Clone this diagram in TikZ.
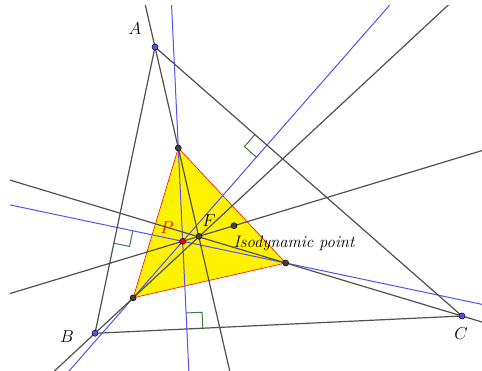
\documentclass[tikz,border=0pt]{standalone}
\usetikzlibrary{calc}
\definecolor{lgray}{RGB}{80,80,80}
\definecolor{lblue}{RGB}{80,80,255}
\definecolor{lgreen}{RGB}{60,125,60}
\definecolor{dotgray}{RGB}{64,64,64}
\tikzset{
  gline/.style={draw=lgray,line width=1.2pt},
  bline/.style={draw=lblue,line width=1pt},
  rmark/.style={draw=lgreen,line width=1pt},
  gdot/.style={circle,fill=dotgray,draw=black,line width=0.5pt,inner sep=0pt,minimum size=6pt},
  bdot/.style={circle,fill=lblue,draw=black,line width=0.5pt,inner sep=0pt,minimum size=6pt},
  rdot/.style={circle,fill=red,draw=black,line width=0.5pt,inner sep=0pt,minimum size=6pt},
  lbl/.style={inner sep=0pt}
}
\begin{document}
\begin{tikzpicture}[x=1pt,y=-1pt,font=\fontsize{16}{19}\selectfont]
\useasboundingbox (0,0) rectangle (482,371);
% points
\coordinate (A) at (155,47);
\coordinate (B) at (95,333.3);
\coordinate (C) at (462,316);
\coordinate (D) at (178.3,148);
\coordinate (E) at (133.2,297.8);
\coordinate (G) at (285.7,263);
\coordinate (P) at (182.7,241.3);
\coordinate (F) at (199,236.3);
\coordinate (I) at (234,225.7);
% feet of perpendiculars from P
\coordinate (HA) at ($(A)!(P)!(C)$);
\coordinate (HB) at ($(B)!(P)!(C)$);
\coordinate (HC) at ($(A)!(P)!(B)$);
\begin{scope}
\clip (10,6) rectangle (482,371);
\fill[yellow] (D) -- (E) -- (G) -- cycle;
\draw[red,line width=0.6pt] (D) -- (E) -- (G) -- cycle;
% blue perpendiculars through P
\draw[bline] ($(P)!-8!(E)$) -- ($(P)!8!(E)$);
\draw[bline] ($(P)!-8!(D)$) -- ($(P)!8!(D)$);
\draw[bline] ($(P)!-8!(G)$) -- ($(P)!8!(G)$);
% gray cevians
\draw[gline] ($(A)!-2!(D)$) -- ($(A)!6!(D)$);
\draw[gline] ($(B)!-3!(E)$) -- ($(B)!12!(E)$);
\draw[gline] ($(C)!-1!(G)$) -- ($(C)!4!(G)$);
\draw[gline] ($(F)!-12!(I)$) -- ($(F)!12!(I)$);
\end{scope}
% triangle ABC
\draw[gline] (A) -- (B) -- (C) -- cycle;
% right angle marks
\coordinate (a1) at ($(HA)!16pt!(A)$);
\coordinate (a2) at ($(HA)!16pt!(P)$);
\draw[rmark] (a1) -- ($(a1)+(a2)-(HA)$) -- (a2);
\coordinate (b1) at ($(HB)!16pt!(C)$);
\coordinate (b2) at ($(HB)!16pt!(P)$);
\draw[rmark] (b1) -- ($(b1)+(b2)-(HB)$) -- (b2);
\coordinate (c1) at ($(HC)!16pt!(B)$);
\coordinate (c2) at ($(HC)!16pt!(P)$);
\draw[rmark] (c1) -- ($(c1)+(c2)-(HC)$) -- (c2);
% dots
\node[bdot] (nA) at (A) {};
\node[bdot] (nB) at (B) {};
\node[bdot] (nC) at (C) {};
\node[gdot] (nD) at (D) {};
\node[gdot] (nE) at (E) {};
\node[gdot] (nG) at (G) {};
\node[gdot] (nF) at (F) {};
\node[gdot] (nI) at (I) {};
\node[rdot] (nP) at (P) {};
% labels
\node[lbl] (tA) at (135,29) {$A$};
\node[lbl] (tB) at (67,337) {$B$};
\node[lbl] (tC) at (461,334) {$C$};
\node[lbl,text=red] (tP) at (167,228) {$P$};
\node[lbl] (tF) at (209,221) {$F$};
\node[lbl,anchor=base west,font=\fontsize{16.6}{19}\selectfont] (tI) at (233.5,248) {\textit{Isodynamic point}};
\end{tikzpicture}
\end{document}
